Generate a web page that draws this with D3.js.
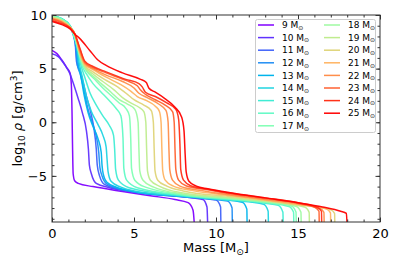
<!DOCTYPE html>
<html>
<head>
<meta charset="utf-8">
<script src="https://cdn.jsdelivr.net/npm/d3@7"></script>
<style>
  body { margin: 0; background: #fff; }
  text { font-family: "DejaVu Sans", sans-serif; fill: #000; }
</style>
</head>
<body>
<svg id="chart" width="399" height="266"></svg>
<script>
// initial masses (legend) and the drawn profiles [mass coordinate, log10 rho]
const masses = [9, 10, 11, 12, 13, 14, 15, 16, 17, 18, 19, 20, 21, 22, 23, 24, 25];
const xTicks = [0, 5, 10, 15, 20];
const yTicks = [-5, 0, 5, 10];

const p09 = [[0,6.7],[0.3,6.4],[0.6,5.8],[0.9,5.1],[1.1,4.6],[1.18,3.5],[1.22,1],[1.25,-2],[1.29,-4.8],[1.38,-5.45],[1.6,-5.7],[2.5,-6.0],[4.3,-6.45],[6,-6.85],[7.5,-7.2],[8.3,-7.5],[8.6,-8.2],[8.7,-10]];
const p10 = [[0,6.4],[0.4,6.1],[0.8,5.3],[1.1,4.5],[1.35,3.4],[1.6,2.2],[1.85,0.9],[2.1,-0.8],[2.22,-2.5],[2.28,-4.0],[2.4,-4.8],[2.7,-5.7],[3.5,-6.1],[5,-6.5],[8,-6.95],[9.2,-7.2],[9.45,-7.9],[9.5,-10]];
const p11 = [[0,9.8],[0.6,9.5],[1.1,8.9],[1.4,7.6],[1.5,5.6],[1.7,4.8],[1.9,3.7],[2.1,2.4],[2.35,1.0],[2.55,-0.5],[2.7,-2.5],[2.76,-4.0],[2.9,-5.0],[3.2,-5.8],[4,-6.2],[5,-6.5],[8,-6.95],[10.0,-7.25],[10.28,-7.9],[10.3,-10]];
const p12 = [[0,9.85],[0.6,9.55],[1.1,8.9],[1.45,7.0],[1.55,5.3],[1.7,4.6],[1.95,3.0],[2.2,1.2],[2.45,0],[2.7,-1.3],[2.85,-2.8],[2.92,-4.2],[3.05,-5.0],[3.3,-5.7],[4,-6.15],[5,-6.5],[8,-6.95],[10.7,-7.35],[10.98,-8.0],[11.0,-10]];
const p13 = [[0,9.9],[0.6,9.6],[1.1,8.95],[1.5,7.0],[1.6,5.5],[1.75,4.4],[1.95,2.6],[2.2,0.9],[2.5,-0.4],[2.8,-1.5],[3.0,-2.8],[3.05,-4.0],[3.12,-4.8],[3.35,-5.6],[4,-6.1],[5,-6.45],[8,-6.9],[11.6,-7.45],[11.88,-8.1],[11.9,-10]];
const p14 = [[0,9.95],[0.6,9.65],[1.1,9.0],[1.5,7.2],[1.65,5.6],[1.85,4.2],[2.1,2.4],[2.4,1.0],[2.8,-0.2],[3.1,-1.2],[3.3,-2.3],[3.36,-3.5],[3.42,-4.6],[3.6,-5.5],[4.2,-6.05],[5,-6.4],[8,-6.9],[11,-7.3],[12.9,-7.65],[13.18,-8.3],[13.2,-10]];
const p15 = [[0,9.95],[0.6,9.65],[1.1,9.0],[1.55,6.9],[1.75,5.4],[2.0,4.2],[2.3,2.8],[2.7,1.6],[3.1,0.6],[3.5,-0.3],[3.75,-1.2],[3.82,-2.5],[3.88,-4.4],[4.05,-5.4],[4.7,-6.1],[8,-6.85],[11,-7.25],[13,-7.55],[13.8,-7.75],[14.08,-8.4],[14.1,-10]];
const p16 = [[0,9.9],[0.6,9.6],[1.1,8.95],[1.6,6.7],[1.8,5.4],[2.1,4.5],[2.5,3.6],[3.0,2.8],[3.5,2.0],[3.9,1.3],[4.2,0.6],[4.33,-1.5],[4.38,-4.3],[4.55,-5.4],[5.2,-6.1],[8,-6.8],[11,-7.2],[13,-7.5],[14.45,-7.85],[14.73,-8.4],[14.75,-10]];
const p17 = [[0,9.9],[0.6,9.6],[1.1,8.9],[1.6,6.8],[1.8,5.6],[2.1,4.8],[2.6,4.0],[3.1,3.2],[3.6,2.5],[4.1,1.8],[4.5,1.3],[4.72,0.6],[4.8,-1.5],[4.85,-4.3],[5.05,-5.4],[5.7,-6.05],[8,-6.75],[11,-7.15],[13,-7.45],[14.6,-7.8],[14.88,-8.4],[14.9,-10]];
const p18 = [[0,9.85],[0.6,9.55],[1.1,8.9],[1.4,8.2],[1.7,6.2],[2.0,5.1],[2.5,4.3],[3.0,3.6],[3.6,2.8],[4.1,2.1],[4.6,1.7],[5.05,1.2],[5.25,0],[5.3,-2.5],[5.35,-4.5],[5.55,-5.4],[6.2,-6.05],[8,-6.7],[11,-7.1],[13,-7.4],[14.9,-7.85],[15.18,-8.4],[15.2,-10]];
const p19 = [[0,9.8],[0.6,9.5],[1.1,8.9],[1.4,8.2],[1.7,6.3],[2.0,5.2],[2.5,4.5],[3.1,3.8],[3.8,3.0],[4.3,2.3],[4.8,1.8],[5.3,1.4],[5.6,1.0],[5.72,0],[5.77,-2.5],[5.82,-4.5],[6.0,-5.4],[6.6,-6.0],[8,-6.6],[11,-7.05],[13,-7.35],[15.4,-7.9],[15.68,-8.4],[15.7,-10]];
const p20 = [[0,9.75],[0.6,9.45],[1.1,8.85],[1.4,8.2],[1.7,6.4],[2.0,5.3],[2.5,4.7],[3.2,4.0],[4.0,3.3],[4.6,2.6],[5.0,2.1],[5.6,1.6],[6.05,1.1],[6.18,0],[6.23,-2.5],[6.28,-4.5],[6.45,-5.4],[7,-5.95],[8,-6.4],[11,-6.95],[13,-7.3],[15,-7.7],[17.0,-8.15],[17.23,-8.5],[17.25,-10]];
const p21 = [[0,9.7],[0.6,9.4],[1.1,8.85],[1.4,8.2],[1.7,6.5],[2.0,5.4],[2.5,4.9],[3.3,4.2],[4.2,3.5],[4.8,2.9],[5.2,2.4],[5.8,2.0],[6.3,1.5],[6.55,1.0],[6.65,0],[6.7,-2.5],[6.75,-4.5],[6.9,-5.4],[7.4,-5.95],[8.5,-6.35],[11,-6.85],[13,-7.25],[15,-7.65],[16.75,-8.1],[16.98,-8.45],[17.0,-10]];
const p22 = [[0,9.65],[0.6,9.35],[1.1,8.8],[1.4,8.2],[1.7,6.6],[2.0,5.5],[2.5,5.0],[3.3,4.4],[4.3,3.8],[5.0,3.2],[5.3,2.7],[5.8,2.3],[6.5,1.7],[6.95,1.1],[7.08,0],[7.13,-2.5],[7.18,-4.4],[7.35,-5.4],[7.8,-5.95],[9,-6.35],[11,-6.8],[13,-7.2],[15,-7.6],[16.35,-8.05],[16.58,-8.4],[16.6,-10]];
const p23 = [[0,9.6],[0.6,9.3],[1.1,8.8],[1.4,8.2],[1.7,6.8],[2.0,5.6],[2.5,5.1],[3.3,4.6],[4.5,3.9],[5.2,3.4],[5.4,3.0],[5.7,2.6],[6.3,2.1],[6.9,1.6],[7.35,1.0],[7.45,0],[7.5,-2.5],[7.55,-4.4],[7.72,-5.4],[8.2,-5.95],[9.5,-6.3],[11,-6.7],[13,-7.1],[15,-7.55],[16.05,-7.95],[16.28,-8.3],[16.3,-10]];
const p24 = [[0,9.5],[0.6,9.2],[1.1,8.8],[1.4,8.2],[1.7,6.9],[2.0,5.7],[2.5,5.2],[3.3,4.7],[4.5,4.0],[5.3,3.6],[5.5,3.3],[5.7,2.8],[6.3,2.4],[7.0,1.8],[7.55,1.2],[7.72,0.3],[7.8,-2],[7.85,-4.4],[8.02,-5.4],[8.5,-5.95],[9.5,-6.25],[11,-6.65],[13,-7.05],[15,-7.5],[16.2,-7.95],[16.43,-8.3],[16.45,-10]];
const p25 = [[0,9.4],[0.6,9.1],[1.1,8.7],[1.4,8.2],[1.7,7.8],[2.3,6.7],[2.8,5.8],[3.3,5.3],[4.3,4.6],[5.4,4.0],[5.75,3.7],[5.9,3.2],[6.3,2.8],[6.8,2.3],[7.5,1.4],[7.9,0.5],[8.05,-0.8],[8.12,-3],[8.18,-4.6],[8.35,-5.5],[8.8,-5.95],[9.5,-6.2],[11,-6.6],[13,-7.05],[15,-7.5],[16.5,-7.9],[17.6,-8.3],[17.95,-8.5],[18.0,-10]];

const profiles = [p09, p10, p11, p12, p13, p14, p15, p16, p17, p18, p19, p20, p21, p22, p23, p24, p25];

// matplotlib "rainbow" colormap
const rainbow = t => {
  const c = v => Math.round(255 * Math.max(0, Math.min(1, v)));
  return `rgb(${c(Math.abs(2 * t - 0.5))},${c(Math.sin(Math.PI * t))},${c(Math.cos(Math.PI / 2 * t))})`;
};
const color = i => rainbow(i / (masses.length - 1));

const svg = d3.select("#chart");
const margin = { left: 52, right: 19, top: 15, bottom: 44 };
const width = 399 - margin.left - margin.right;
const height = 266 - margin.top - margin.bottom;

const x = d3.scaleLinear().domain([0, 20]).range([0, width]);
const y = d3.scaleLinear().domain([-9.3, 10]).range([height, 0]);

const g = svg.append("g").attr("transform", `translate(${margin.left},${margin.top})`);

g.append("clipPath").attr("id", "clip")
  .append("rect").attr("width", width).attr("height", height);

const line = d3.line()
  .x(d => x(d[0]))
  .y(d => y(d[1]))
  .curve(d3.curveMonotoneX);

g.append("g").attr("clip-path", "url(#clip)")
  .selectAll("path")
  .data(profiles)
  .join("path")
  .attr("d", line)
  .attr("fill", "none")
  .attr("stroke", (d, i) => color(i))
  .attr("stroke-width", 1.5)
  .attr("stroke-opacity", 0.95);

// axes: ticks inside, on all four sides
const fmt = d => d < 0 ? "\u2212" + Math.abs(d) : d;
const axisStyle = (sel) => {
  sel.select(".domain").remove();
  sel.selectAll("line").attr("stroke", "#333");
};

const addAxis = (axis, transform, labels) => {
  const a = g.append("g").attr("transform", transform).call(axis);
  axisStyle(a);
  a.selectAll("text").attr("font-size", 13).style("display", labels ? null : "none");
  return a;
};

const minorX = d3.range(0, 21, 1);
const minorY = d3.range(-9, 11, 1);

addAxis(d3.axisBottom(x).tickValues(minorX).tickSize(-2.5).tickFormat(""), `translate(0,${height})`, false);
addAxis(d3.axisTop(x).tickValues(minorX).tickSize(-2.5).tickFormat(""), "translate(0,0)", false);
addAxis(d3.axisLeft(y).tickValues(minorY).tickSize(-2.5).tickFormat(""), "translate(0,0)", false);
addAxis(d3.axisRight(y).tickValues(minorY).tickSize(-2.5).tickFormat(""), `translate(${width},0)`, false);

const xb = addAxis(d3.axisBottom(x).tickValues(xTicks).tickSize(-4.5).tickPadding(7).tickFormat(fmt), `translate(0,${height})`, true);
addAxis(d3.axisTop(x).tickValues(xTicks).tickSize(-4.5).tickFormat(""), "translate(0,0)", false);
const yl = addAxis(d3.axisLeft(y).tickValues(yTicks).tickSize(-4.5).tickPadding(5).tickFormat(fmt), "translate(0,0)", true);
addAxis(d3.axisRight(y).tickValues(yTicks).tickSize(-4.5).tickFormat(""), `translate(${width},0)`, false);

g.append("rect")
  .attr("width", width).attr("height", height)
  .attr("fill", "none").attr("stroke", "#333").attr("stroke-width", 1);

// axis labels
const xl = svg.append("text")
  .attr("x", margin.left + width / 2).attr("y", 252)
  .attr("text-anchor", "middle").attr("font-size", 13);
xl.append("tspan").text("Mass [M");
xl.append("tspan").attr("font-size", 9).attr("dy", 3).text("\u2299");
xl.append("tspan").attr("dy", -3).text("]");

const ylab = svg.append("text")
  .attr("transform", `translate(22,${margin.top + height / 2}) rotate(-90)`)
  .attr("text-anchor", "middle").attr("font-size", 13);
ylab.append("tspan").text("log");
ylab.append("tspan").attr("font-size", 9).attr("dy", 3).text("10");
ylab.append("tspan").attr("dy", -3).text(" ");
ylab.append("tspan").attr("font-style", "italic").text("\u03c1");
ylab.append("tspan").text(" [g/cm");
ylab.append("tspan").attr("font-size", 9).attr("dy", -5).text("3");
ylab.append("tspan").attr("dy", 5).text("]");

// legend
const legend = svg.append("g");
legend.append("rect")
  .attr("x", 255.5).attr("y", 19.5).attr("width", 120).attr("height", 113)
  .attr("rx", 2).attr("fill", "#fff").attr("fill-opacity", 0.85)
  .attr("stroke", "#ccc").attr("stroke-width", 1);

const rows = 9;
masses.forEach((m, i) => {
  const col = Math.floor(i / rows);
  const row = i % rows;
  const lx = 258 + col * 66;
  const ly = 25 + row * 12.6;
  const it = legend.append("g");
  it.append("line")
    .attr("x1", lx).attr("x2", lx + 16)
    .attr("y1", ly).attr("y2", ly)
    .attr("stroke", color(i)).attr("stroke-width", 1.5);
  const t = it.append("text")
    .attr("x", lx + 24).attr("y", ly + 3.2)
    .attr("font-size", 9);
  t.append("tspan").text(`${m} M`);
  t.append("tspan").attr("font-size", 6).attr("dy", 1.5).text("\u2299");
});
</script>
</body>
</html>
